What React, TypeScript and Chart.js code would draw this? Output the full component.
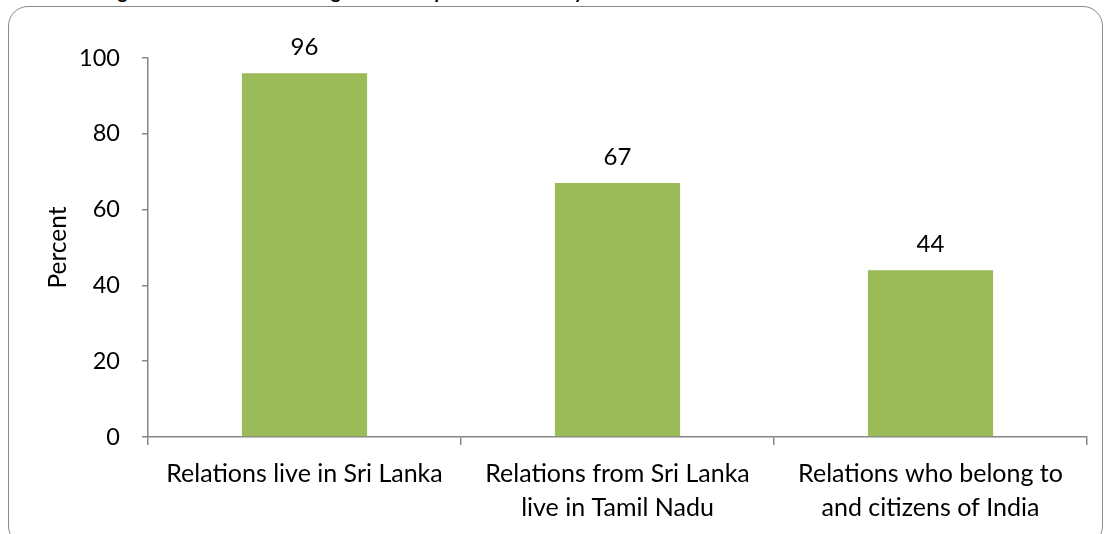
import React, { useEffect, useRef } from "react";
import { Chart, registerables } from "chart.js";

Chart.register(...registerables);

const categories: string[][] = [
  ["Relations live in Sri Lanka"],
  ["Relations from Sri Lanka", "live in Tamil Nadu"],
  ["Relations who belong to", "and citizens of India"],
];
const values: number[] = [96, 67, 44];
const yTicks: number[] = [0, 20, 40, 60, 80, 100];
const yTitle = "Percent";
const chartTitle = "Figure 4: Households having relationships in each area by location";

const FONT = "Lato, 'Open Sans', sans-serif";
const AXIS = "#868686";

const valueLabels = {
  id: "valueLabels",
  afterDatasetsDraw(chart: any) {
    const ctx = chart.ctx;
    ctx.save();
    ctx.font = `24px ${FONT}`;
    ctx.fillStyle = "#000";
    ctx.textAlign = "center";
    ctx.textBaseline = "middle";
    chart.data.datasets.forEach((ds: any, i: number) => {
      const meta = chart.getDatasetMeta(i);
      meta.data.forEach((el: any, j: number) => {
        ctx.fillText(String(ds.data[j]), el.x, el.y - 26);
      });
    });
    ctx.restore();
  },
};

export default function App() {
  const ref = useRef<HTMLCanvasElement | null>(null);
  useEffect(() => {
    if (!ref.current) return;
    const chart = new Chart(ref.current, {
      type: "bar",
      data: {
        labels: categories,
        datasets: [
          {
            data: values,
            backgroundColor: "#9BBB59",
            borderWidth: 0,
            barPercentage: 0.4,
            categoryPercentage: 1,
          },
        ],
      },
      options: {
        animation: false,
        responsive: false,
        maintainAspectRatio: false,
        layout: { padding: { top: 58, right: 21, bottom: 0, left: 0 } },
        plugins: { legend: { display: false }, tooltip: { enabled: false }, title: { display: false } },
        scales: {
          x: {
            grid: { drawOnChartArea: false, tickLength: 8, color: AXIS, lineWidth: 1.5, offset: true },
            border: { color: AXIS, width: 1.5 },
            ticks: {
              color: "#000",
              padding: 12,
              maxRotation: 0,
              autoSkip: false,
              font: { family: FONT, size: 25, lineHeight: 1.35 },
            },
            afterFit(scale: any) {
              scale.height = 97;
            },
          },
          y: {
            min: 0,
            max: 100,
            afterBuildTicks(scale: any) {
              scale.ticks = yTicks.map((v) => ({ value: v }));
            },
            grid: { drawOnChartArea: false, tickLength: 6, color: AXIS, lineWidth: 1.5 },
            border: { color: AXIS, width: 1.5 },
            ticks: {
              color: "#000",
              padding: 22,
              font: { family: FONT, size: 23.5 },
            },
            title: {
              display: true,
              text: yTitle,
              color: "#000",
              padding: { top: 43, bottom: 0 },
              font: { family: FONT, size: 24.5 },
            },
            afterFit(scale: any) {
              scale.width = 148;
            },
          },
        },
      },
      plugins: [valueLabels],
    });
    return () => chart.destroy();
  }, []);

  return (
    <div style={{ position: "absolute", left: 0, top: 0, width: 1108, height: 534, overflow: "hidden", background: "#fff" }}>
      <div
        style={{
          position: "absolute",
          left: 102,
          top: -18,
          lineHeight: "19px",
          fontFamily: FONT,
          fontWeight: 700,
          fontSize: 19,
          whiteSpace: "nowrap",
          color: "#000",
        }}
      >
        {chartTitle}
      </div>
      <div
        style={{
          position: "absolute",
          left: 8,
          top: 6,
          width: 1095,
          height: 540,
          border: "1.5px solid #8a8a8a",
          borderRadius: 20,
          boxSizing: "border-box",
        }}
      />
      <canvas ref={ref} width={1108} height={534} style={{ position: "absolute", left: 0, top: 0, width: 1108, height: 534 }} />
    </div>
  );
}
